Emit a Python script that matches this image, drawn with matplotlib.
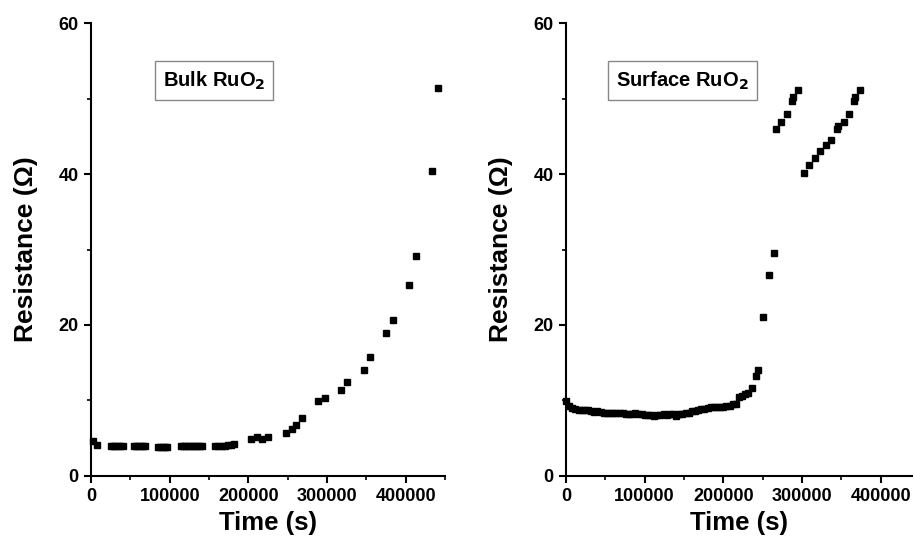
import matplotlib.pyplot as plt
from matplotlib.ticker import MultipleLocator

# ----------------------------
# Data (time in s, resistance in Ohm)
# ----------------------------

bulk_t = [2000, 7000,
          25000, 28000, 31000, 34000, 37000, 40000,
          54000, 57000, 60000, 63000, 66000, 69000,
          85000, 88000, 91000, 94000, 97000,
          114000, 117000, 120000, 123000, 126000, 129000, 132000, 135000, 138000, 141000,
          158000, 162000, 166000, 170000, 174000, 178000, 182000,
          203000, 210500, 217700, 224500,
          247800, 255000, 260500, 268100,
          288800, 296900, 318000, 325700, 346500, 354900,
          375200, 383700, 404100, 413000, 433300, 441300]
bulk_r = [4.6, 4.1,
          4.0, 4.0, 4.0, 4.0, 4.0, 4.0,
          3.95, 3.95, 3.95, 3.95, 3.95, 3.95,
          3.9, 3.9, 3.9, 3.9, 3.9,
          3.95, 3.95, 3.95, 3.95, 3.95, 3.95, 3.95, 3.95, 3.95, 3.95,
          3.95, 3.95, 4.0, 4.0, 4.05, 4.1, 4.3,
          4.86, 5.2, 4.9, 5.1,
          5.65, 6.2, 6.7, 7.7,
          9.97, 10.3, 11.4, 12.4, 14.1, 15.7,
          19.0, 20.6, 25.3, 29.1, 40.4, 51.4]

surf_t = [0, 4000, 8000, 12000, 16000, 20000, 24000, 28000, 32000, 36000,
          40000, 44000, 48000, 52000, 56000, 60000, 64000, 68000, 72000, 76000,
          80000, 84000, 88000, 92000, 96000, 100000, 104000, 108000, 112000, 116000,
          120000, 124000, 128000, 132000, 136000, 140000, 144000, 148000, 152000, 156000,
          160000, 164000, 168000, 172000, 176000, 180000, 184000, 188000, 192000, 196000,
          200000, 204000, 208000, 212000, 216000, 220000, 224000, 228000, 232000, 236000,
          242000, 244000, 251000, 258000, 265000,
          267000, 273500, 281000, 287500, 288500, 295000,
          302000, 309000, 316000, 323000, 330000, 337500, 344000, 346000, 353000,
          360000, 366000, 367000, 374000]
surf_r = [9.9, 9.3, 9.0, 8.9, 8.8, 8.8, 8.7, 8.7, 8.6, 8.5,
          8.6, 8.5, 8.4, 8.4, 8.4, 8.3, 8.4, 8.3, 8.3, 8.2,
          8.2, 8.2, 8.3, 8.2, 8.2, 8.1, 8.1, 8.1, 8.0, 8.1,
          8.1, 8.2, 8.1, 8.2, 8.2, 7.9, 8.2, 8.2, 8.3, 8.4,
          8.6, 8.6, 8.8, 8.9, 8.9, 9.0, 9.1, 9.1, 9.1, 9.2,
          9.2, 9.3, 9.3, 9.5, 9.6, 10.4, 10.6, 10.9, 11.0, 11.6,
          13.3, 14.0, 21.1, 26.6, 29.5,
          45.9, 46.9, 47.9, 49.7, 50.2, 51.1,
          40.1, 41.2, 42.1, 43.0, 43.8, 44.5, 45.9, 46.3, 46.9,
          47.9, 49.7, 50.2, 51.1]

# ----------------------------
# Plot
# ----------------------------

plt.rcParams['font.family'] = ['Liberation Sans', 'DejaVu Sans']
plt.rcParams['font.weight'] = 'bold'

fig = plt.figure(figsize=(9.14, 5.39), dpi=100)
ax1 = fig.add_axes([0.0996, 0.1169, 0.3873, 0.8404])
ax2 = fig.add_axes([0.6193, 0.1169, 0.3786, 0.8404])


def style(ax, xmax, label, box_x):
    ax.set_xlim(0, xmax)
    ax.set_ylim(0, 60)
    ax.spines['top'].set_visible(False)
    ax.spines['right'].set_visible(False)
    for s in ('left', 'bottom'):
        ax.spines[s].set_linewidth(1.5)
    ax.xaxis.set_major_locator(MultipleLocator(100000))
    ax.xaxis.set_minor_locator(MultipleLocator(50000))
    ax.yaxis.set_major_locator(MultipleLocator(20))
    ax.yaxis.set_minor_locator(MultipleLocator(10))
    ax.tick_params(which='major', direction='out', length=5, width=1.5,
                   labelsize=13, pad=4)
    ax.tick_params(which='minor', direction='out', length=3, width=1.2)
    for lbl in ax.get_xticklabels() + ax.get_yticklabels():
        lbl.set_fontweight('bold')
    ax.set_xlabel('Time (s)', fontsize=18.5, fontweight='bold', labelpad=4)
    ax.set_ylabel('Resistance (\u03a9)', fontsize=19, fontweight='bold', labelpad=15)
    ax.ticklabel_format(axis='x', style='plain')
    ax.text(box_x, 0.873, label, transform=ax.transAxes, fontsize=14.5,
            fontweight='bold', ha='center', va='center',
            bbox=dict(boxstyle='square,pad=0.4', fc='white', ec='#888888', lw=1))


ax1.plot(bulk_t, bulk_r, 's', color='black', markersize=4.3, clip_on=False)
ax2.plot(surf_t, surf_r, 's', color='black', markersize=4.3, clip_on=False)

style(ax1, 450000, 'Bulk RuO$_\\mathbf{2}$', 0.347)
style(ax2, 440000, 'Surface RuO$_\\mathbf{2}$', 0.337)

fig.savefig('out.png', dpi=100)
